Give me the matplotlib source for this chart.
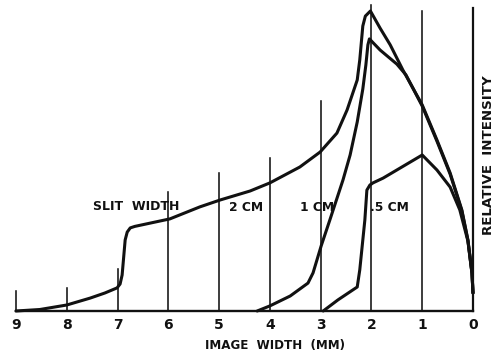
#!/usr/bin/env python3
"""Relative intensity across the image width for three slit widths."""

import matplotlib

matplotlib.use("Agg")
import matplotlib.pyplot as plt

# image width (mm) and relative intensity
slit_2cm_x = [9.0, 8.53, 8.0, 7.54, 7.25, 7.01, 6.95, 6.91, 6.85, 6.81, 6.75, 6.66, 5.97,
              5.38, 4.98, 4.39, 4.0, 3.41, 3.01, 2.68, 2.48, 2.28, 2.23, 2.17, 2.12, 2.02,
              1.83, 1.63, 1.38, 1.0, 0.71, 0.45, 0.22, 0.10, 0.02, 0.0]
slit_2cm_y = [0.0, 0.5, 2.0, 4.3, 6.0, 7.7, 9.0, 12.0, 23.7, 26.3, 27.7, 28.2, 30.7,
              34.7, 37.0, 40.0, 42.7, 48.0, 53.0, 59.3, 67.0, 77.0, 83.7, 95.0, 98.3, 100.0,
              94.3, 88.7, 80.3, 68.7, 57.0, 46.0, 33.7, 23.7, 12.7, 6.0]

slit_1cm_x = [4.25, 4.0, 3.60, 3.25, 3.15, 2.99, 2.82, 2.56, 2.42, 2.28, 2.17, 2.11, 2.07,
              2.04, 1.83, 1.50, 1.32, 1.0, 0.71, 0.45, 0.22, 0.10, 0.02, 0.0]
slit_1cm_y = [0.0, 1.7, 5.0, 9.3, 12.7, 21.7, 30.3, 43.7, 52.0, 63.0, 74.0, 82.0, 88.7,
              90.7, 87.0, 82.3, 78.7, 68.3, 56.6, 45.6, 33.4, 23.5, 12.6, 6.0]

slit_05cm_x = [2.95, 2.66, 2.28, 2.23, 2.13, 2.09, 2.03, 1.97, 1.77, 1.0, 0.71, 0.45, 0.26,
               0.10, 0.02, 0.0]
slit_05cm_y = [0.0, 3.7, 8.0, 13.7, 30.3, 40.3, 42.0, 42.7, 44.3, 52.0, 47.0, 41.3, 33.7,
               23.3, 12.5, 6.0]

grid_x = [9, 8, 7, 6, 5, 4, 3, 2, 1]
grid_top = [6.7, 7.7, 14.0, 39.7, 46.0, 51.0, 70.0, 102.0, 100.0]

tick_values = [9, 8, 7, 6, 5, 4, 3, 2, 1, 0]
tick_labels = ["9", "8", "7", "6", "5", "4", "3", "2", "1", "0"]

curve_labels = ["2 CM", "1 CM", ".5 CM"]
curve_label_x = [4.47, 3.07, 1.65]

plt.rcParams["font.family"] = ["DejaVu Sans"]
plt.rcParams["font.weight"] = "bold"

W, H = 495, 358
fig = plt.figure(figsize=(W / 100, H / 100), dpi=100)
ax = fig.add_axes([16 / W, 47 / H, 457 / W, 309 / H])
ax.set_xlim(9, 0)
ax.set_ylim(0, 103)

ink = "#111111"
for x, top in zip(grid_x, grid_top):
    ax.plot([x, x], [0, top], color=ink, lw=1.15, clip_on=False)

for xs, ys in [(slit_2cm_x, slit_2cm_y), (slit_1cm_x, slit_1cm_y), (slit_05cm_x, slit_05cm_y)]:
    ax.plot(xs, ys, color=ink, lw=2.2, solid_joinstyle="round", solid_capstyle="round",
            clip_on=False)

for side in ["top", "left"]:
    ax.spines[side].set_visible(False)
ax.spines["bottom"].set_linewidth(1.7)
ax.spines["right"].set_linewidth(1.6)
ax.spines["bottom"].set_color(ink)
ax.spines["right"].set_color(ink)
ax.spines["right"].set_bounds(0, 101)

ax.set_xticks(tick_values)
ax.set_xticklabels(tick_labels, fontsize=10, fontweight="bold")
ax.tick_params(axis="x", length=0, pad=5, colors=ink)
ax.set_yticks([])

ax.text(6.64, 34.7, "SLIT  WIDTH", ha="center", va="center", fontsize=9, color=ink)
for label, x in zip(curve_labels, curve_label_x):
    ax.text(x, 34.5, label, ha="center", va="center", fontsize=8.8, color=ink)

fig.text(275 / W, 1 - 345 / H, "IMAGE  WIDTH  (MM)", ha="center", va="center",
         fontsize=8.6, color=ink)
fig.text(488 / W, 1 - 155 / H, "RELATIVE  INTENSITY", ha="center", va="center",
         rotation=90, fontsize=9.6, color=ink)

fig.savefig("out.png", dpi=100)
